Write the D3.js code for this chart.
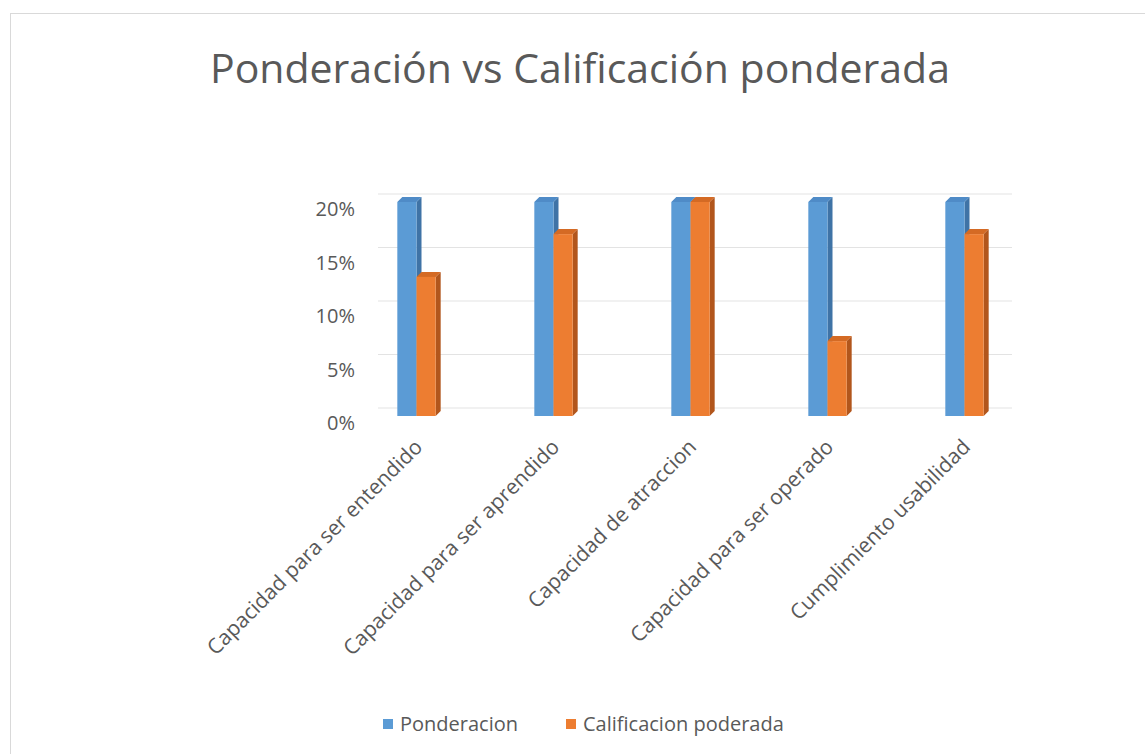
<!DOCTYPE html>
<html>
<head>
<meta charset="utf-8">
<script src="https://cdn.jsdelivr.net/npm/d3@7"></script>
<style>
  body { margin: 0; background: #fff; }
  svg { display: block; font-family: 'Open Sans', 'Noto Sans', sans-serif; }
</style>
</head>
<body>
<div id="chart"></div>
<script>
// Data
const categories = [
    'Capacidad para ser entendido',
    'Capacidad para ser aprendido',
    'Capacidad de atraccion',
    'Capacidad para ser operado',
    'Cumplimiento usabilidad'
];
const seriesNames = ['Ponderacion', 'Calificacion poderada'];
const ponderacion = [0.20, 0.20, 0.20, 0.20, 0.20];
const calificacion = [0.13, 0.17, 0.20, 0.07, 0.17];
const yTicks = [0, 0.05, 0.10, 0.15, 0.20];

const width = 1145;
const height = 754;

const colors = {
    'Ponderacion': { front: '#5b9bd5', side: '#3f73a6', top: '#4f8bc7' },
    'Calificacion poderada': { front: '#ed7d31', side: '#b2561c', top: '#d46a24' }
};
const depth = 5;

const svg = d3.select('#chart')
    .append('svg')
    .attr('width', width)
    .attr('height', height);

// chart area frame
svg.append('rect')
    .attr('x', 10.5)
    .attr('y', 13.5)
    .attr('width', 1140)
    .attr('height', 750)
    .attr('fill', '#fff')
    .attr('stroke', '#d9d9d9');

svg.append('text')
    .attr('x', 580)
    .attr('y', 83)
    .attr('text-anchor', 'middle')
    .attr('font-size', '41px')
    .attr('fill', '#595959')
    .text('Ponderación vs Calificación ponderada');

const x0 = d3.scaleBand()
    .domain(categories)
    .range([348, 1033])
    .paddingInner(0.72)
    .paddingOuter(0.36);

const x1 = d3.scaleBand()
    .domain(seriesNames)
    .range([0, x0.bandwidth()]);

const y = d3.scaleLinear()
    .domain([0, 0.2])
    .range([416, 202]);

// back wall gridlines
svg.append('g')
    .selectAll('line')
    .data(yTicks)
    .join('line')
    .attr('x1', 378)
    .attr('x2', 1012)
    .attr('y1', d => y(d) - 8)
    .attr('y2', d => y(d) - 8)
    .attr('stroke', '#e3e3e3')
    .attr('stroke-width', 1);

// y tick labels
svg.append('g')
    .selectAll('text')
    .data(yTicks)
    .join('text')
    .attr('x', 355)
    .attr('y', d => y(d) + 7)
    .attr('dy', '0.35em')
    .attr('text-anchor', 'end')
    .attr('font-size', '20px')
    .attr('fill', '#595959')
    .text(d3.format('.0%'));

// bars as simple 3D prisms
const rows = [];
categories.forEach((c, i) => {
    rows.push({ cat: c, series: seriesNames[0], value: ponderacion[i] });
    rows.push({ cat: c, series: seriesNames[1], value: calificacion[i] });
});

const bars = svg.append('g')
    .selectAll('g')
    .data(rows)
    .join('g');

bars.append('path')
    .attr('fill', d => colors[d.series].side)
    .attr('d', d => {
        const xr = x0(d.cat) + x1(d.series) + x1.bandwidth();
        const yt = y(d.value), yb = y(0);
        return `M${xr},${yt}L${xr + depth},${yt - depth}L${xr + depth},${yb - depth}L${xr},${yb}Z`;
    });

bars.append('path')
    .attr('fill', d => colors[d.series].top)
    .attr('d', d => {
        const xl = x0(d.cat) + x1(d.series);
        const xr = xl + x1.bandwidth();
        const yt = y(d.value);
        return `M${xl},${yt}L${xl + depth},${yt - depth}L${xr + depth},${yt - depth}L${xr},${yt}Z`;
    });

bars.append('rect')
    .attr('x', d => x0(d.cat) + x1(d.series))
    .attr('y', d => y(d.value))
    .attr('width', x1.bandwidth())
    .attr('height', d => y(0) - y(d.value))
    .attr('fill', d => colors[d.series].front);

// category labels
svg.append('g')
    .selectAll('text')
    .data(categories)
    .join('text')
    .attr('transform', d => `translate(${x0(d) + x0.bandwidth() / 2 + 2},${443}) rotate(-45)`)
    .attr('text-anchor', 'end')
    .attr('dy', '0.35em')
    .attr('font-size', '21px')
    .attr('fill', '#595959')
    .text(d => d);

// legend
const legendX = [383, 566];
const legend = svg.append('g')
    .selectAll('g')
    .data(seriesNames)
    .join('g')
    .attr('transform', (d, i) => `translate(${legendX[i]},${724})`);

legend.append('rect')
    .attr('x', 0)
    .attr('y', -5)
    .attr('width', 10)
    .attr('height', 10)
    .attr('fill', d => colors[d].front);

legend.append('text')
    .attr('x', 17)
    .attr('y', 0)
    .attr('dy', '0.35em')
    .attr('font-size', '20px')
    .attr('fill', '#595959')
    .text(d => d);
</script>
</body>
</html>
